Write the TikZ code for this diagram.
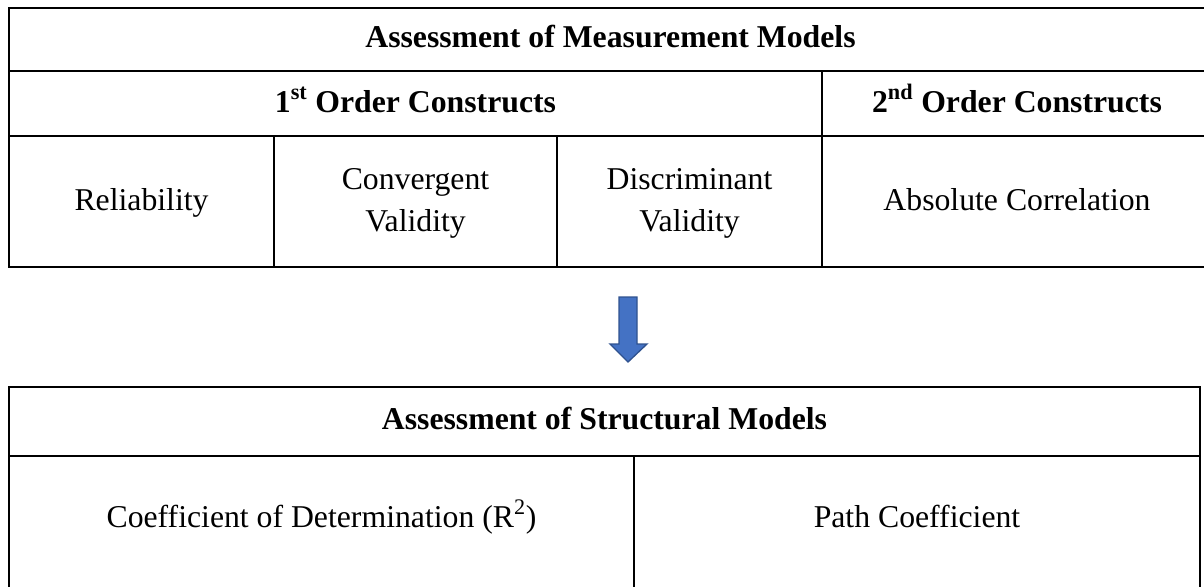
\documentclass[tikz,border=0pt]{standalone}
\usepackage{fontspec}
\setmainfont{Liberation Serif}

\definecolor{arrowfill}{RGB}{68,114,196}
\definecolor{arrowline}{RGB}{47,82,143}

\tikzset{every picture/.style={line width=1.6pt}}
\tikzset{cell/.style={align=center,inner sep=0.75pt,font=\fontsize{23.8}{31.5}\selectfont},
  headcell/.style={cell,font=\fontsize{23.8}{31.5}\selectfont\bfseries}}

\begin{document}
\begin{tikzpicture}[x=0.75pt,y=0.75pt,yscale=-1,xscale=1]
\useasboundingbox (0,0) rectangle (1204,586);

%Measurement table: outer lines
\draw    (1212,8) -- (9,8) -- (9,267) -- (1212,267) ;
%Measurement table: row lines
\draw    (9,71) -- (1212,71) ;
\draw    (9,136) -- (1212,136) ;
%Measurement table: column lines
\draw    (822,71) -- (822,267) ;
\draw    (274,136) -- (274,267) ;
\draw    (557,136) -- (557,267) ;

%Shape: Down Arrow
\draw  [color=arrowline, fill=arrowfill, line width=1pt] (619,297) -- (637,297) -- (637,344) -- (647,344) -- (628,362) -- (610,344) -- (619,344) -- cycle ;

%Structural table: outer lines
\draw    (9,590) -- (9,387) -- (1200,387) -- (1200,590) ;
%Structural table: row and column lines
\draw    (9,456) -- (1200,456) ;
\draw    (634,456) -- (634,590) ;

% Text Node
\node [headcell, anchor=base] (measure) at (610.5,47) {Assessment of Measurement Models};
% Text Node
\node [headcell, anchor=base] (first) at (415.5,112) {1\textsuperscript{st} Order Constructs};
% Text Node
\node [headcell, anchor=base] (second) at (1017,112) {2\textsuperscript{nd} Order Constructs};
% Text Node
\node [cell, anchor=base] (reliab) at (141.5,210) {Reliability};
% Text Node
\node [cell] (converg) at (415.5,203) {Convergent\\Validity};
% Text Node
\node [cell] (discrim) at (689.5,203) {Discriminant\\Validity};
% Text Node
\node [cell, anchor=base] (abscorr) at (1017,210) {Absolute Correlation};
% Text Node
\node [headcell, anchor=base] (struct) at (604.5,429) {Assessment of Structural Models};
% Text Node
\node [cell, anchor=base] (rsquare) at (321.5,527) {Coefficient of Determination (R\textsuperscript{2})};
% Text Node
\node [cell, anchor=base] (pathcoef) at (917,527) {Path Coefficient};

\end{tikzpicture}
\end{document}
